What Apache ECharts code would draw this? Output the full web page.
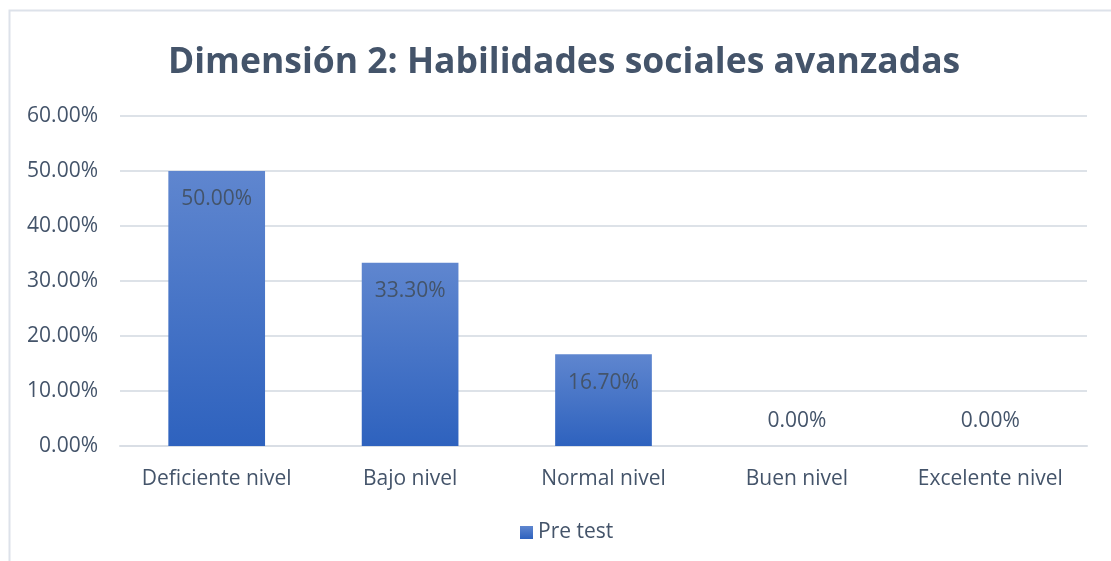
<!DOCTYPE html>
<html>
<head>
<meta charset="utf-8">
<script src="https://cdn.jsdelivr.net/npm/echarts@6/dist/echarts.min.js"></script>
<style>
  html, body { margin: 0; padding: 0; background: #fff; }
  #chart { width: 1111px; height: 561px; }
</style>
</head>
<body>
<div id="chart"></div>
<script>
var categories = ['Deficiente nivel', 'Bajo nivel', 'Normal nivel', 'Buen nivel', 'Excelente nivel'];
var preTest = [50.0, 33.3, 16.7, 0.0, 0.0];
var yTicks = [0, 10, 20, 30, 40, 50, 60];

var textColor = '#44546A';
var font = 'Open Sans';

var container = document.getElementById('chart');
var opts = {
    backgroundColor: '#fff',
    textStyle: { fontFamily: font },
    title: {
        text: 'Dimensión 2: Habilidades sociales avanzadas',
        left: 163,
        top: 40,
        textStyle: {
            fontFamily: font,
            fontSize: 35.5,
            fontWeight: 'bold',
            color: textColor
        }
    },
    graphic: [
        {
            type: 'rect',
            shape: { x: 9.5, y: 10.5, width: 1200, height: 700 },
            style: { fill: 'none', stroke: '#DDE2EA', lineWidth: 2 },
            silent: true
        }
    ],
    legend: {
        data: ['Pre test'],
        bottom: 13,
        left: 515,
        itemWidth: 13,
        itemHeight: 13,
        itemGap: 6,
        icon: 'rect',
        textStyle: { fontFamily: font, fontSize: 21, color: textColor }
    },
    grid: {
        left: 120,
        right: 24,
        top: 116,
        bottom: 115
    },
    xAxis: [
        {
            type: 'category',
            data: categories,
            boundaryGap: true,
            axisLine: { show: true, lineStyle: { color: '#D9DEE5', width: 2 } },
            axisTick: { show: false },
            axisLabel: { interval: 0, fontFamily: font, fontSize: 21, color: textColor, margin: 23 }
        }
    ],
    yAxis: [
        {
            type: 'value',
            min: yTicks[0],
            max: yTicks[yTicks.length - 1],
            interval: 10,
            axisLine: { show: false },
            axisTick: { show: false },
            splitLine: { lineStyle: { color: '#DDE2E8', width: 2 } },
            axisLabel: {
                fontFamily: font,
                fontSize: 21,
                color: textColor,
                margin: 22,
                formatter: function (v) { return v.toFixed(2) + '%'; }
            }
        }
    ],
    series: [
        {
            name: 'Pre test',
            type: 'bar',
            barWidth: '50%',
            data: preTest.map(function (v) {
                return {
                    value: v,
                    label: v === 0
                        ? { position: 'top', distance: 14 }
                        : { position: 'insideTop', distance: 18 }
                };
            }),
            itemStyle: {
                color: new echarts.graphic.LinearGradient(0, 0, 0, 1, [
                    { offset: 0, color: '#5F86CF' },
                    { offset: 1, color: '#2E62BE' }
                ])
            },
            label: {
                show: true,
                fontFamily: font,
                fontSize: 21,
                color: textColor,
                formatter: function (p) { return p.value.toFixed(2) + '%'; }
            }
        }
    ]
};

echarts.init(container).setOption(opts);
</script>
</body>
</html>
